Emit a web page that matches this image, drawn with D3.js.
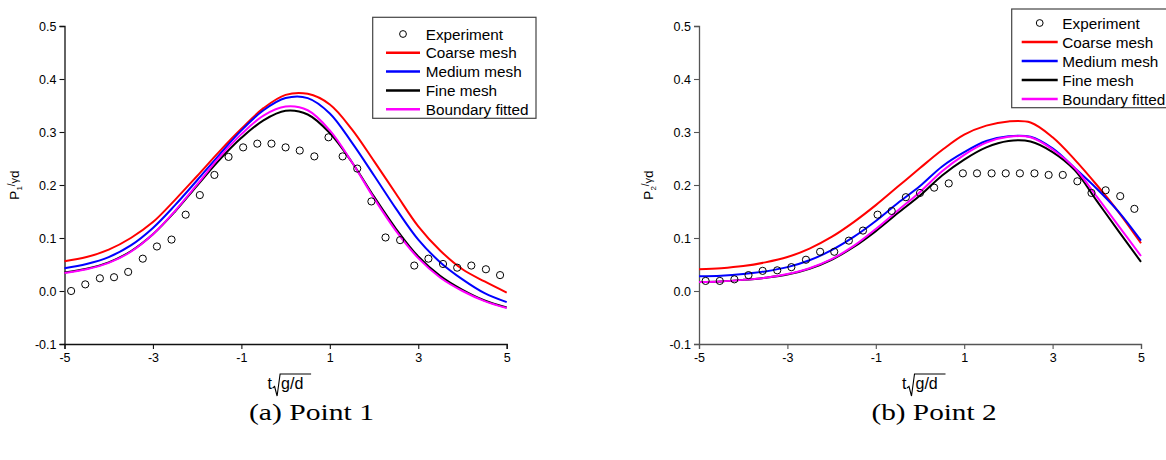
<!DOCTYPE html>
<html>
<head>
<meta charset="utf-8">
<script src="https://cdn.jsdelivr.net/npm/d3@7"></script>
<style>
  body { margin: 0; background: #fff; }
  svg { display: block; }
  text { font-family: "Liberation Sans", Arial, sans-serif; fill: #000; }
</style>
</head>
<body>
<svg id="chart" width="1166" height="460"></svg>
<script>
// --- Data ---
const tExp = [-4.85, -4.53, -4.2, -3.88, -3.56, -3.23, -2.91, -2.58, -2.26, -1.94, -1.61,
  -1.29, -0.96, -0.64, -0.32, 0, 0.32, 0.65, 0.97, 1.29, 1.62, 1.94, 2.26, 2.59, 2.91,
  3.23, 3.56, 3.88, 4.2, 4.53, 4.85];
const exp1 = [0.0, 0.0125, 0.024, 0.026, 0.036, 0.061, 0.084, 0.097, 0.144, 0.181, 0.219,
  0.253, 0.271, 0.278, 0.278, 0.271, 0.265, 0.254, 0.29, 0.254, 0.231, 0.169, 0.101, 0.096,
  0.048, 0.061, 0.051, 0.044, 0.048, 0.041, 0.03];
const exp2 = [0.019, 0.019, 0.022, 0.03, 0.038, 0.039, 0.045, 0.059, 0.074, 0.074, 0.095,
  0.114, 0.144, 0.151, 0.177, 0.185, 0.195, 0.203, 0.222, 0.222, 0.222, 0.222, 0.222, 0.222,
  0.219, 0.219, 0.207, 0.185, 0.19, 0.179, 0.155];

const tCurve = [-5, -4.5, -4, -3.5, -3, -2.5, -2, -1.5, -1, -0.5, 0, 0.5, 1, 1.5, 2, 2.5, 3, 3.5, 4, 4.5, 5];
const coarse1   = [0.056, 0.064, 0.078, 0.1, 0.13, 0.172, 0.217, 0.263, 0.306, 0.345, 0.37, 0.372, 0.352, 0.305, 0.245, 0.183, 0.122, 0.076, 0.041, 0.018, -0.003];
const medium1   = [0.043, 0.051, 0.064, 0.086, 0.119, 0.162, 0.209, 0.257, 0.303, 0.341, 0.364, 0.364, 0.335, 0.28, 0.218, 0.155, 0.097, 0.054, 0.022, -0.004, -0.021];
const fine1     = [0.035, 0.042, 0.054, 0.075, 0.107, 0.15, 0.199, 0.247, 0.289, 0.322, 0.34, 0.333, 0.298, 0.243, 0.178, 0.117, 0.065, 0.028, 0.002, -0.018, -0.031];
const boundary1 = [0.034, 0.041, 0.053, 0.074, 0.107, 0.151, 0.201, 0.252, 0.296, 0.331, 0.348, 0.341, 0.303, 0.243, 0.175, 0.113, 0.062, 0.025, 0.0, -0.019, -0.032];

const coarse2   = [0.041, 0.043, 0.047, 0.054, 0.064, 0.08, 0.102, 0.13, 0.162, 0.197, 0.232, 0.266, 0.295, 0.312, 0.32, 0.318, 0.29, 0.248, 0.2, 0.148, 0.09];
const medium2   = [0.028, 0.029, 0.032, 0.037, 0.045, 0.058, 0.077, 0.102, 0.132, 0.166, 0.198, 0.235, 0.262, 0.283, 0.292, 0.291, 0.269, 0.232, 0.193, 0.149, 0.095];
const fine2     = [0.017, 0.018, 0.021, 0.025, 0.031, 0.042, 0.059, 0.083, 0.113, 0.147, 0.18, 0.218, 0.248, 0.271, 0.283, 0.282, 0.262, 0.228, 0.17, 0.112, 0.055];
const boundary2 = [0.017, 0.018, 0.021, 0.025, 0.032, 0.043, 0.06, 0.085, 0.117, 0.152, 0.187, 0.226, 0.257, 0.28, 0.291, 0.29, 0.267, 0.232, 0.178, 0.122, 0.066];

const seriesNames = ["Coarse mesh", "Medium mesh", "Fine mesh", "Boundary fitted"];
const seriesColors = ["#ff0000", "#0000ff", "#000000", "#ff00ff"];
const xTicks = [-5, -3, -1, 1, 3, 5];
const yTicks = [-0.1, 0.0, 0.1, 0.2, 0.3, 0.4, 0.5];

// --- Panels ---
const panels = [
  { left: 64.5, right: 506.7, sub: "1", exp: exp1, curves: [coarse1, medium1, fine1, boundary1],
    axisColor: "#111", caption: "(a) Point 1", capX: 311.5,
    legend: { x: 372.7, y: 17.3, w: 163.3, h: 101, row0: 34, rowH: 18.8, l0: 13.3, l1: 47.3, tx: 53 } },
  { left: 699, right: 1141, sub: "2", exp: exp2, curves: [coarse2, medium2, fine2, boundary2],
    axisColor: "#555", caption: "(b) Point 2", capX: 934,
    legend: { x: 1011.7, y: 9, w: 163.3, h: 98.7, row0: 23, rowH: 19, l0: 10, l1: 46, tx: 50.6 } }
];
const plotTop = 26, plotBottom = 344;
const svg = d3.select("#chart");

panels.forEach(p => {
  const x = d3.scaleLinear().domain([-5, 5]).range([p.left, p.right]);
  const y = d3.scaleLinear().domain([-0.1, 0.5]).range([plotBottom, plotTop]);
  const g = svg.append("g");

  // axes
  const yAxis = g.append("g").attr("transform", `translate(${p.left},0)`)
    .call(d3.axisLeft(y).tickValues(yTicks).tickFormat(d => d.toFixed(1)).tickSize(5).tickPadding(3));
  const xAxis = g.append("g").attr("transform", `translate(0,${plotBottom})`)
    .call(d3.axisBottom(x).tickValues(xTicks).tickFormat(d => String(d)).tickSize(5).tickPadding(4));
  [xAxis, yAxis].forEach(a => {
    a.select(".domain").attr("stroke", p.axisColor).attr("stroke-width", 1.3);
    a.selectAll(".tick line").attr("stroke", p.axisColor).attr("stroke-width", 1.1);
    a.selectAll(".tick text").attr("font-size", 12.5).attr("fill", "#111");
  });

  // curves
  const line = d3.line().x((d, i) => x(tCurve[i])).y(d => y(d)).curve(d3.curveCatmullRom);
  p.curves.forEach((c, k) => {
    g.append("path").datum(c).attr("d", line)
      .attr("fill", "none").attr("stroke", seriesColors[k]).attr("stroke-width", 2);
  });

  // experiment
  g.selectAll("circle.exp").data(p.exp).join("circle").attr("class", "exp")
    .attr("cx", (d, i) => x(tExp[i])).attr("cy", d => y(d)).attr("r", 3.6)
    .attr("fill", "none").attr("stroke", "#000").attr("stroke-width", 1);

  // y label
  const cy = (plotTop + plotBottom) / 2;
  const yl = g.append("text").attr("transform", `translate(${p.left - 46},${cy}) rotate(-90)`)
    .attr("text-anchor", "middle").attr("font-size", 13.5);
  yl.append("tspan").text("P");
  yl.append("tspan").text(p.sub).attr("font-size", 8).attr("dy", 3);
  yl.append("tspan").text("/").attr("font-size", 10).attr("dy", -7);
  yl.append("tspan").text("γ").attr("font-size", 11).attr("dy", 3);
  yl.append("tspan").text("d").attr("dy", 1);

  // x label with radical
  const cx = (p.left + p.right) / 2;
  g.append("text").attr("x", cx - 18).attr("y", 389).attr("font-size", 16).text("t");
  g.append("path")
    .attr("d", `M${cx - 13},${388} L${cx - 11},${386.5} L${cx - 8.5},${396} L${cx - 5.5},${374} L${cx + 25.5},${374}`)
    .attr("fill", "none").attr("stroke", "#000").attr("stroke-width", 1.1);
  g.append("text").attr("x", cx - 4.5).attr("y", 389).attr("font-size", 16).text("g/d");

  // legend
  const L = p.legend;
  const lg = g.append("g");
  lg.append("rect").attr("x", L.x).attr("y", L.y).attr("width", L.w).attr("height", L.h)
    .attr("fill", "#fff").attr("stroke", "#444").attr("stroke-width", 1.2);
  const lineX0 = L.x + L.l0, lineX1 = L.x + L.l1, textX = L.x + L.tx;
  lg.append("circle").attr("cx", (lineX0 + lineX1) / 2).attr("cy", L.row0).attr("r", 3.4)
    .attr("fill", "none").attr("stroke", "#000");
  lg.append("text").attr("x", textX).attr("y", L.row0).attr("dy", "0.36em").attr("font-size", 15.3).text("Experiment");
  seriesNames.forEach((name, k) => {
    const ry = L.row0 + L.rowH * (k + 1);
    lg.append("line").attr("x1", lineX0).attr("x2", lineX1).attr("y1", ry).attr("y2", ry)
      .attr("stroke", seriesColors[k]).attr("stroke-width", 2.5);
    lg.append("text").attr("x", textX).attr("y", ry).attr("dy", "0.36em").attr("font-size", 15.3).text(name);
  });

  // caption
  g.append("text").attr("x", p.capX).attr("y", 420).attr("text-anchor", "middle")
    .style("font-family", "'Liberation Serif', 'Times New Roman', serif").attr("font-size", 24)
    .attr("textLength", 125).attr("lengthAdjust", "spacingAndGlyphs").text(p.caption);
});
</script>
</body>
</html>
